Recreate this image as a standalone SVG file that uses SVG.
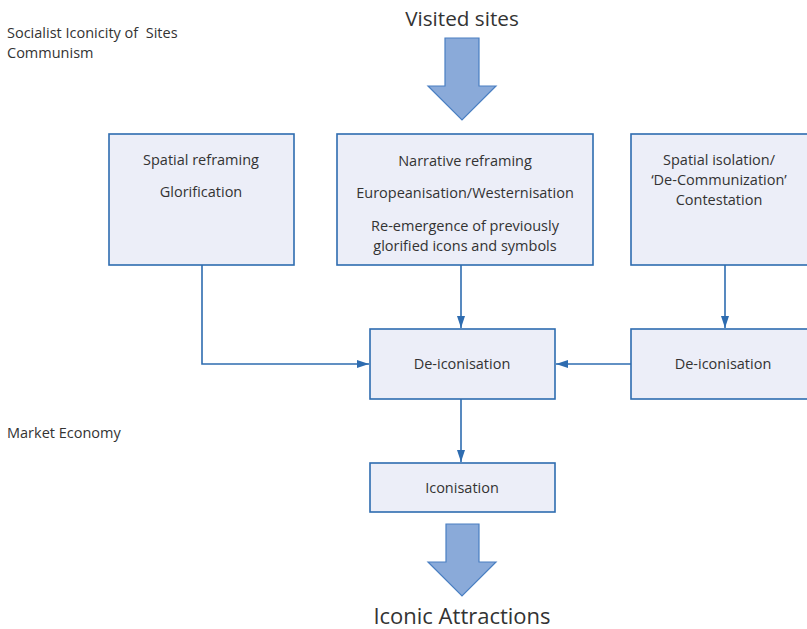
<svg xmlns="http://www.w3.org/2000/svg" width="807" height="629" viewBox="0 0 807 629">
<defs>
<style>
.box{fill:#eceef8;stroke:#2e6cb0;stroke-width:1.6}
.t{font-family:"Open Sans","Liberation Sans",sans-serif;font-size:14.5px;fill:#333;text-anchor:middle}
.side{font-family:"Open Sans","Liberation Sans",sans-serif;font-size:14.5px;fill:#333;white-space:pre}
.big{font-family:"Open Sans","Liberation Sans",sans-serif;font-size:20.7px;fill:#333;text-anchor:middle}
.fat{fill:#8aaad9;stroke:#4a7fc2;stroke-width:1.2}
.c{fill:none;stroke:#2e6cb0;stroke-width:1.6}
</style>
<marker id="ah" viewBox="0 0 12 10" refX="12" refY="5" markerWidth="12" markerHeight="10" markerUnits="userSpaceOnUse" orient="auto">
<path d="M0,1 L12,5 L0,9 Z" fill="#2e6cb0"/>
</marker>
</defs>
<rect width="807" height="629" fill="#fff"/>
<text class="side" x="7" y="38" xml:space="preserve">Socialist Iconicity of  Sites</text>
<text class="side" x="7" y="58">Communism</text>
<text class="side" x="7" y="438">Market Economy</text>
<g id="visited"><text class="big" x="462" y="26">Visited sites</text>
<path class="fat" d="M445,38 H479 V86 H496 L462,120 L428,86 H445 Z"/></g>
<g id="box1"><rect class="box" x="109" y="134" width="185" height="131"/>
<text class="t" x="201" y="165">Spatial reframing</text>
<text class="t" x="201" y="197">Glorification</text></g>
<g id="box2"><rect class="box" x="337" y="134" width="256" height="131"/>
<text class="t" x="465" y="166">Narrative reframing</text>
<text class="t" x="465" y="198">Europeanisation/Westernisation</text>
<text class="t" x="465" y="231">Re-emergence of previously</text>
<text class="t" x="465" y="251">glorified icons and symbols</text></g>
<g id="box3"><rect class="box" x="631" y="134" width="190" height="131"/>
<text class="t" x="719" y="165">Spatial isolation/</text>
<text class="t" x="719" y="185">‘De-Communization’</text>
<text class="t" x="719" y="205">Contestation</text></g>
<g id="deicon"><rect class="box" x="370" y="329" width="185" height="70"/>
<text class="t" x="462" y="369">De-iconisation</text></g>
<g id="deicon2"><rect class="box" x="631" y="329" width="190" height="70"/>
<text class="t" x="723" y="369">De-iconisation</text></g>
<g id="icon"><rect class="box" x="370" y="463" width="185" height="49"/>
<text class="t" x="462" y="493">Iconisation</text></g>
<g id="attractions"><path class="fat" d="M446,524 H479 V562 H496 L462,596 L428,562 H446 Z"/>
<text class="big" x="462" y="624" style="font-size:22px">Iconic Attractions</text></g>
<g id="connectors">
<path class="c" d="M202,265 V364 H369" marker-end="url(#ah)"/>
<path class="c" d="M461,265 V328" marker-end="url(#ah)"/>
<path class="c" d="M725,265 V328" marker-end="url(#ah)"/>
<path class="c" d="M631,364 H556" marker-end="url(#ah)"/>
<path class="c" d="M461,399 V462" marker-end="url(#ah)"/>
</g>
</svg>
